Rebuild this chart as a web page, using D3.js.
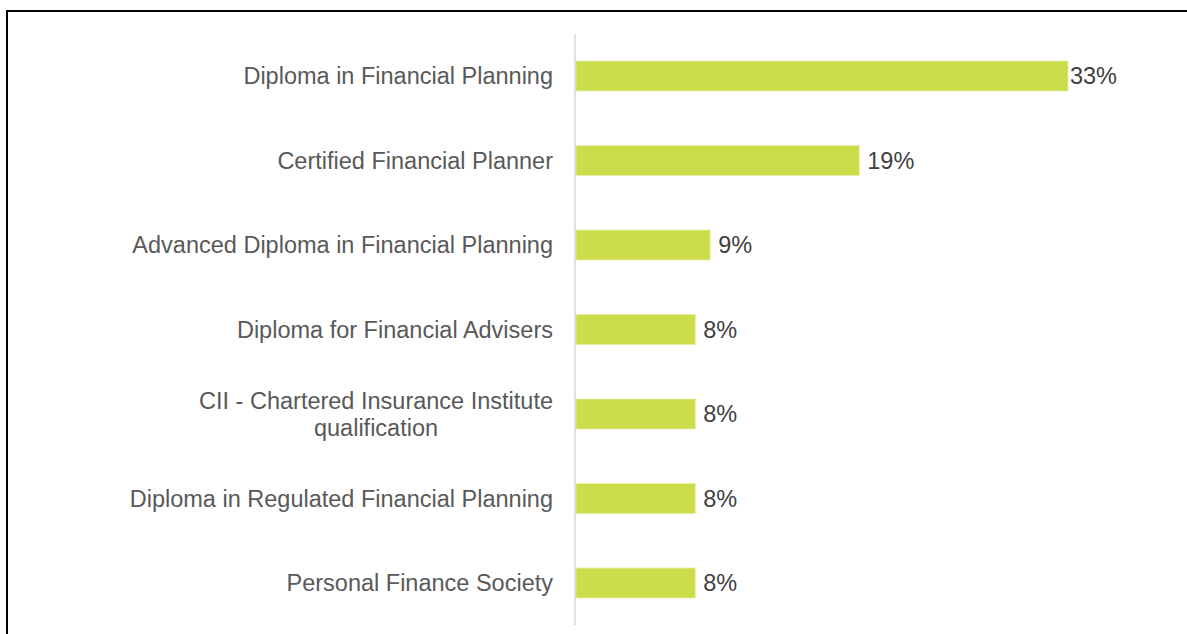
<!DOCTYPE html>
<html lang="en">
<head>
    <meta charset="UTF-8">
    <title>Qualifications held</title>
    <script src="https://d3js.org/d3.v7.min.js"></script>
    <style>
        body { margin: 0; background: #fff; }
        svg { display: block; font-family: "Liberation Sans", Arial, sans-serif; }
    </style>
</head>
<body>
<script>
    // data
    var categories = [
        ['Diploma in Financial Planning'],
        ['Certified Financial Planner'],
        ['Advanced Diploma in Financial Planning'],
        ['Diploma for Financial Advisers'],
        ['CII - Chartered Insurance Institute', 'qualification'],
        ['Diploma in Regulated Financial Planning'],
        ['Personal Finance Society']
    ]
    var values = [33, 19, 9, 8, 8, 8, 8]
    var valueLabels = ['33%', '19%', '9%', '8%', '8%', '8%', '8%']

    var w = 1187, h = 634
    var axisX = 575, plotTop = 34, plotBottom = 625
    var fontSize = 23.5

    var svg = d3.select('body').append('svg')
        .attr('width', w)
        .attr('height', h)

    // frame (runs off right and bottom edges)
    svg.append('rect')
        .attr('x', 7).attr('y', 11)
        .attr('width', w + 20).attr('height', h + 20)
        .attr('fill', 'none')
        .attr('stroke', '#000')
        .attr('stroke-width', 2)

    var xScale = d3.scaleLinear()
        .domain([0, 33])
        .range([axisX + 1, 1068])

    var yScale = d3.scaleBand()
        .domain(d3.range(values.length))
        .range([plotTop, plotBottom])
        .paddingInner(0.645)
        .paddingOuter(0.32)

    // bars
    svg.selectAll('rect.bar')
        .data(values)
        .enter()
        .append('rect')
        .attr('class', 'bar')
        .attr('x', xScale(0))
        .attr('y', (d, i) => yScale(i))
        .attr('width', (d) => xScale(d) - xScale(0))
        .attr('height', yScale.bandwidth())
        .attr('fill', '#CCDD4C')
        .attr('stroke', '#E6EEA8')
        .attr('stroke-width', 0.8)

    // axis line
    svg.append('line')
        .attr('x1', axisX).attr('x2', axisX)
        .attr('y1', plotTop).attr('y2', plotBottom)
        .attr('stroke', '#D9D9D9')
        .attr('stroke-width', 1.5)

    // value labels
    svg.selectAll('text.val')
        .data(values)
        .enter()
        .append('text')
        .attr('class', 'val')
        .attr('x', (d) => xScale(d) + 8)
        .attr('y', (d, i) => yScale(i) + yScale.bandwidth() / 2)
        .attr('dy', '0.35em')
        .attr('font-size', fontSize)
        .attr('fill', '#404040')
        .text((d, i) => valueLabels[i])
        .each(function (d) {
            // keep inside plot area like the original
            var len = this.getComputedTextLength()
            var x = Math.min(xScale(d) + 8, 1117 - len)
            d3.select(this).attr('x', x)
        })

    // category labels
    var labelRight = 553
    var lineH = 27
    categories.forEach(function (lines, i) {
        var cy = yScale(i) + yScale.bandwidth() / 2
        var t = svg.append('text')
            .attr('font-size', fontSize)
            .attr('fill', '#595959')
        lines.forEach(function (s, j) {
            t.append('tspan')
                .attr('y', cy + (j - (lines.length - 1) / 2) * lineH)
                .attr('dy', '0.35em')
                .text(s)
        })
        if (lines.length == 1) {
            t.attr('text-anchor', 'end').selectAll('tspan').attr('x', labelRight)
        } else {
            var widest = d3.max(t.selectAll('tspan').nodes(), (n) => n.getComputedTextLength())
            t.attr('text-anchor', 'middle').selectAll('tspan').attr('x', labelRight - widest / 2)
        }
    })
</script>
</body>
</html>
